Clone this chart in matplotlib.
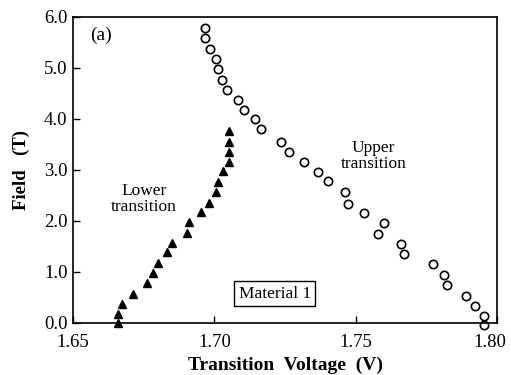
import numpy as np
import matplotlib.pyplot as plt
import matplotlib.transforms as mtransforms

plt.rcParams['font.family'] = ['Liberation Serif', 'DejaVu Serif']

# lower transition (filled triangles)
lower_v = [1.6660, 1.6660, 1.6674, 1.6713, 1.6762, 1.6784, 1.6801, 1.6833, 1.6851,
           1.6904, 1.6911, 1.6954, 1.6982, 1.7004, 1.7014, 1.7032, 1.7053, 1.7053,
           1.7053, 1.7053]
lower_b = [0.00, 0.18, 0.37, 0.57, 0.79, 0.98, 1.18, 1.38, 1.57,
           1.77, 1.97, 2.17, 2.36, 2.56, 2.76, 2.97, 3.15, 3.35,
           3.54, 3.76]

# upper transition (open circles)
upper_v = [1.6968, 1.6965, 1.6986, 1.7007, 1.7014, 1.7025, 1.7046, 1.7085, 1.7103,
           1.7142, 1.7163, 1.7234, 1.7262, 1.7316, 1.7365, 1.7401, 1.7461, 1.7472,
           1.7528, 1.7599, 1.7578, 1.7660, 1.7670, 1.7773, 1.7812, 1.7823, 1.7890,
           1.7922, 1.7954, 1.7954]
upper_b = [5.79, 5.59, 5.37, 5.18, 4.98, 4.76, 4.57, 4.37, 4.17,
           4.00, 3.80, 3.54, 3.35, 3.15, 2.95, 2.78, 2.56, 2.34,
           2.15, 1.95, 1.75, 1.55, 1.36, 1.16, 0.94, 0.75, 0.53,
           0.33, 0.14, -0.04]

xticks = [1.65, 1.70, 1.75, 1.80]
yticks = [0.0, 1.0, 2.0, 3.0, 4.0, 5.0, 6.0]

fig = plt.figure(figsize=(5.11, 3.75), dpi=100)
ax = fig.add_axes([0.143, 0.139, 0.830, 0.816])

ax.plot(lower_v, lower_b, linestyle='none', marker='^', color='black',
        markersize=6, clip_on=False)
ax.plot(upper_v, upper_b, linestyle='none', marker='o', markerfacecolor='white',
        markeredgecolor='black', markeredgewidth=1.2, markersize=6, clip_on=False)

ax.set_xlim(1.65, 1.80)
ax.set_ylim(0.0, 6.0)
ax.set_xticks(xticks)
ax.set_xticklabels(['%.2f' % v for v in xticks])
ax.set_yticks(yticks)
ax.set_yticklabels(['%.1f' % v for v in yticks])
ax.tick_params(direction='in', length=5, width=1, labelsize=13.5)
ax.tick_params(axis='x', pad=8)
ax.tick_params(axis='y', pad=4)

# last x label sits a little left of its tick so it stays inside the figure
last = ax.get_xticklabels()[-1]
last.set_transform(last.get_transform() +
                   mtransforms.ScaledTranslation(-7 / 100, 0, fig.dpi_scale_trans))

for s in ax.spines.values():
    s.set_linewidth(1.2)

ax.set_xlabel('Transition  Voltage  (V)', fontsize=14, fontweight='bold', labelpad=4)
ax.set_ylabel('Field   (T)', fontsize=13.5, fontweight='bold', labelpad=10)

ax.text(0.04, 0.94, '(a)', transform=ax.transAxes, fontsize=14, va='center', ha='left')
ax.text(1.6750, 2.43, 'Lower\ntransition', fontsize=12.5, ha='center', va='center',
        linespacing=1.0)
ax.text(1.7562, 3.27, 'Upper\ntransition', fontsize=12.5, ha='center', va='center',
        linespacing=1.0)
ax.text(1.7213, 0.57, 'Material 1', fontsize=12.5, ha='center', va='center',
        bbox=dict(boxstyle='square,pad=0.25', facecolor='white', edgecolor='black',
                  linewidth=1))

fig.savefig('out.png', dpi=100)
